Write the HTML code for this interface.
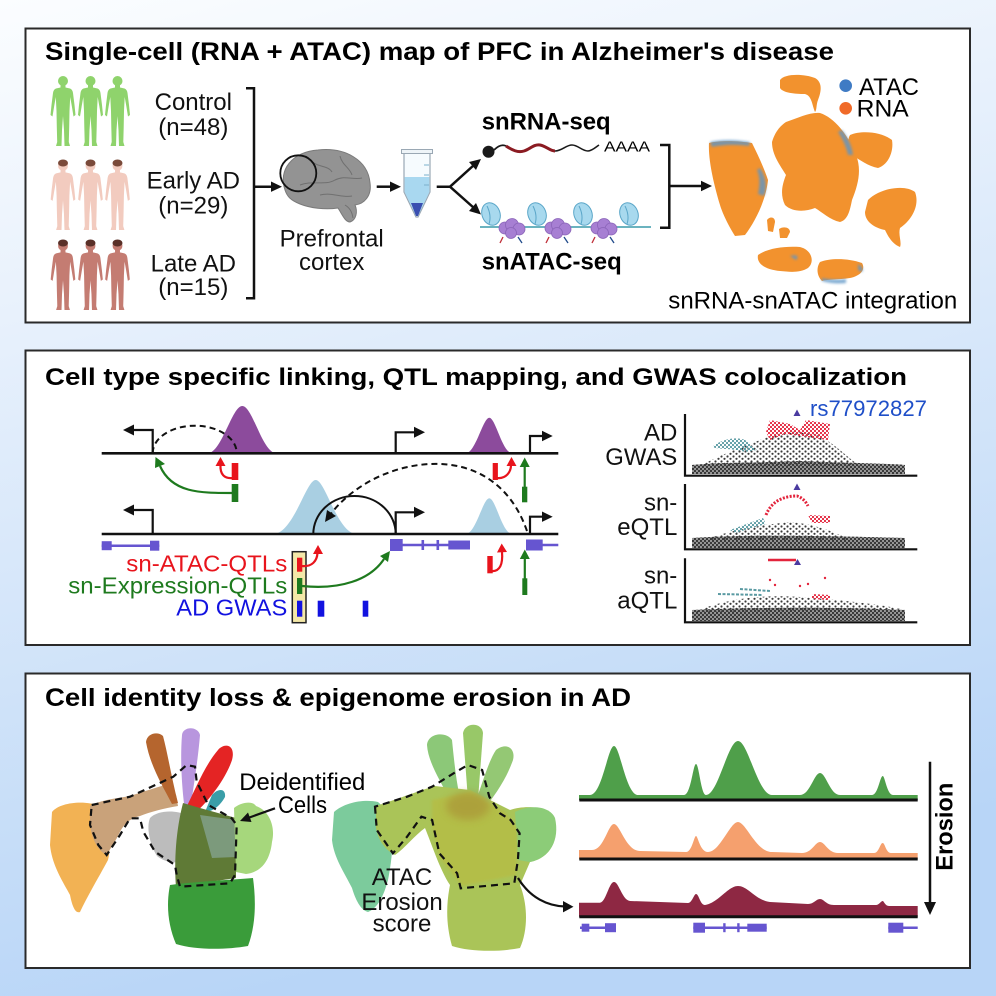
<!DOCTYPE html>
<html><head><meta charset="utf-8">
<style>
html,body{margin:0;padding:0;}
body{width:996px;height:996px;overflow:hidden;}
svg{display:block;}
text{font-family:"Liberation Sans",Arial,sans-serif;}
</style></head>
<body>
<svg width="996" height="996" viewBox="0 0 996 996" xmlns="http://www.w3.org/2000/svg">
<defs>
<linearGradient id="bg" x1="0" y1="0" x2="0.25" y2="1">
<stop offset="0" stop-color="#fbfdff"/>
<stop offset="0.3" stop-color="#e8f1fc"/>
<stop offset="0.65" stop-color="#d0e3f9"/>
<stop offset="1" stop-color="#b8d5f7"/>
</linearGradient>
<pattern id="dk" width="4" height="4" patternUnits="userSpaceOnUse"><circle cx="1" cy="1" r="1.15" fill="#333"/><circle cx="3" cy="3" r="1.15" fill="#333"/></pattern>
<pattern id="dk2" width="6" height="5" patternUnits="userSpaceOnUse"><circle cx="1.5" cy="1.5" r="1.1" fill="#3a3a3a"/><circle cx="4.5" cy="3.8" r="1.1" fill="#3a3a3a"/></pattern>
<pattern id="tl" width="4" height="4" patternUnits="userSpaceOnUse"><circle cx="1" cy="1" r="1.1" fill="#5a9aa2"/><circle cx="3" cy="3" r="1.1" fill="#5a9aa2"/></pattern>
<pattern id="rd" width="4" height="4" patternUnits="userSpaceOnUse"><circle cx="1" cy="1" r="1.1" fill="#e3243c"/><circle cx="3" cy="3" r="1.1" fill="#e3243c"/></pattern>
<symbol id="person" viewBox="0 0 26 72"><circle cx="13" cy="6" r="5"/><path d="M10.5,10 L15.5,10 L15.5,12.5 L20,13.5 Q22.5,14.5 23,18 L24.5,30 L25.5,40 L23.5,41.5 L21.8,31 L20.2,22 L19.5,36 L19.2,52 L18.8,67 L20,71 L14.5,71 L14,55 L13,41 L12,55 L11.5,71 L6,71 L7.2,67 L6.8,52 L6.5,36 L5.8,22 L4.2,31 L2.5,41.5 L0.5,40 L1.5,30 L3,18 Q3.5,14.5 6,13.5 L10.5,12.5 Z"/></symbol>
<filter id="soft" x="-10%" y="-10%" width="120%" height="120%"><feGaussianBlur stdDeviation="1.2"/></filter>
<filter id="soft3" x="-40%" y="-40%" width="180%" height="180%"><feGaussianBlur stdDeviation="4"/></filter>
</defs>

<rect x="0" y="0" width="996" height="996" fill="url(#bg)"/>

<!-- ================= PANEL 1 ================= -->
<rect x="25.5" y="28.5" width="944.5" height="294" fill="#fff" stroke="#2a2a2a" stroke-width="2"/>
<text x="45" y="60" font-size="25" font-weight="bold" textLength="789" lengthAdjust="spacingAndGlyphs">Single-cell (RNA + ATAC) map of PFC in Alzheimer's disease</text>

<!-- people -->
<g fill="#8fd36c">
<use href="#person" x="50" y="75" width="26" height="72"/>
<use href="#person" x="77.5" y="75" width="26" height="72"/>
<use href="#person" x="104.5" y="75" width="26" height="72"/>
</g>
<g fill="#f2cbbf">
<use href="#person" x="50" y="160" width="26" height="71"/>
<use href="#person" x="77.5" y="160" width="26" height="71"/>
<use href="#person" x="104.5" y="160" width="26" height="71"/>
</g>
<g fill="#7a4a3a"><ellipse cx="63" cy="163" rx="5" ry="3.5"/><ellipse cx="90.5" cy="163" rx="5" ry="3.5"/><ellipse cx="117.5" cy="163" rx="5" ry="3.5"/></g>
<g fill="#c47c72">
<use href="#person" x="50" y="240" width="26" height="71"/>
<use href="#person" x="77.5" y="240" width="26" height="71"/>
<use href="#person" x="104.5" y="240" width="26" height="71"/>
</g>
<g fill="#5a3028"><ellipse cx="63" cy="243" rx="5" ry="3.5"/><ellipse cx="90.5" cy="243" rx="5" ry="3.5"/><ellipse cx="117.5" cy="243" rx="5" ry="3.5"/></g>

<g font-size="24" text-anchor="middle" fill="#111">
<text x="193.3" y="110">Control</text>
<text x="193.3" y="135">(n=48)</text>
<text x="193.3" y="188.3">Early AD</text>
<text x="193.3" y="213.3">(n=29)</text>
<text x="193.3" y="271.7">Late AD</text>
<text x="193.3" y="295">(n=15)</text>
<text x="331.7" y="246.7">Prefrontal</text>
<text x="331.7" y="270">cortex</text>
</g>

<!-- bracket left -->
<path d="M246,88.3 L254,88.3 L254,298.3 L246,298.3" fill="none" stroke="#111" stroke-width="2.5"/>
<line x1="254" y1="186.7" x2="273" y2="186.7" stroke="#111" stroke-width="2.5"/>
<polygon points="282,186.7 271,181.5 271,191.9" fill="#111"/>

<!-- brain -->
<path d="M285,190 C278,170 292,152 318,150 C345,147 368,160 370,183 C372,196 364,204 355,205 C358,212 356,220 350,222 C345,222 342,214 338,208 C325,210 310,208 300,204 C290,200 287,196 285,190 Z" fill="#939393" stroke="#7a7a7a" stroke-width="1"/>
<g fill="none" stroke="#707070" stroke-width="1">
<path d="M300,185 C312,180 325,186 335,180 C345,175 352,180 362,178"/>
<path d="M310,160 C318,168 328,165 332,172"/>
<path d="M340,156 C342,165 350,168 352,175"/>
<path d="M320,195 C332,192 342,198 352,196"/>
<path d="M345,205 C350,208 352,212 353,218"/>
</g>
<circle cx="298.3" cy="173.3" r="18" fill="none" stroke="#111" stroke-width="1.8"/>

<line x1="376.7" y1="186.7" x2="392" y2="186.7" stroke="#111" stroke-width="2.5"/>
<polygon points="401,186.7 390,181.5 390,191.9" fill="#111"/>

<!-- tube -->
<path d="M404,153 L430,153 L430,192 L418,217 L416,217 L404,192 Z" fill="#f6fbfe" stroke="#9aa8b4" stroke-width="1.2"/>
<path d="M404.6,177 L429.4,177 L429.4,192 L418,216 L416,216 L404.6,192 Z" fill="#a9d8f0"/>
<path d="M411,203 L423,203 L418,216 L416,216 Z" fill="#3a4fb0"/>
<rect x="401.5" y="149.5" width="31" height="4" fill="#eef4f8" stroke="#9aa8b4" stroke-width="1"/>
<g stroke="#7ab0cc" stroke-width="1"><line x1="424" y1="165" x2="429" y2="165"/><line x1="424" y1="175" x2="429" y2="175"/><line x1="424" y1="185" x2="429" y2="185"/></g>

<!-- fork -->
<path d="M436.7,186.7 L450,186.7 L474,165" fill="none" stroke="#111" stroke-width="2.5"/>
<path d="M450,186.7 L474,208" fill="none" stroke="#111" stroke-width="2.5"/>
<polygon points="481,159 469,162 476,170" fill="#111"/>
<polygon points="481,214.5 469,211 476,203" fill="#111"/>

<!-- snRNA -->
<text x="481.7" y="129.3" font-size="24" font-weight="bold" textLength="129" lengthAdjust="spacingAndGlyphs">snRNA-seq</text>
<circle cx="488.5" cy="151.7" r="6" fill="#1a1a1a"/>
<path d="M494,150 C498,146 502,144 506,146" fill="none" stroke="#1a1a1a" stroke-width="1.8"/>
<path d="M506,146 C512,150 518,153 524,151 C530,149 534,144 540,145 C546,146 550,151 555,151" fill="none" stroke="#8b1b22" stroke-width="3"/>
<path d="M555,151 C562,151 566,145 572,145 C578,145 582,151 588,151 C592,151 596,147 599,145" fill="none" stroke="#1a1a1a" stroke-width="1.6"/>
<text x="604" y="151.7" font-size="15" textLength="46" lengthAdjust="spacingAndGlyphs">AAAA</text>

<!-- nucleosomes -->
<line x1="480" y1="227" x2="651" y2="227" stroke="#3a9aaa" stroke-width="1.5"/>
<g fill="#a77fd3" stroke="#8a64b8" stroke-width="0.8">
<circle cx="505" cy="228" r="6"/><circle cx="512" cy="225" r="6.5"/><circle cx="519" cy="229" r="6"/><circle cx="511" cy="233" r="5.5"/>
<circle cx="551" cy="228" r="6"/><circle cx="558" cy="225" r="6.5"/><circle cx="565" cy="229" r="6"/><circle cx="557" cy="233" r="5.5"/>
<circle cx="597" cy="228" r="6"/><circle cx="604" cy="225" r="6.5"/><circle cx="611" cy="229" r="6"/><circle cx="603" cy="233" r="5.5"/>
</g>
<g stroke-width="1.3">
<line x1="503" y1="237" x2="500" y2="243" stroke="#c0303a"/><line x1="518" y1="237" x2="522" y2="243" stroke="#204a8a"/>
<line x1="549" y1="237" x2="546" y2="243" stroke="#c0303a"/><line x1="564" y1="237" x2="568" y2="243" stroke="#204a8a"/>
<line x1="595" y1="237" x2="592" y2="243" stroke="#c0303a"/><line x1="610" y1="237" x2="614" y2="243" stroke="#204a8a"/>
</g>
<g fill="#a8d9ee" stroke="#5aa6c8" stroke-width="1">
<ellipse cx="491" cy="214" rx="9" ry="11.5" transform="rotate(-20 491 214)"/>
<ellipse cx="537" cy="214" rx="9" ry="11.5" transform="rotate(-20 537 214)"/>
<ellipse cx="583" cy="214" rx="9" ry="11.5" transform="rotate(-20 583 214)"/>
<ellipse cx="629" cy="214" rx="9" ry="11.5" transform="rotate(-20 629 214)"/>
</g>
<g stroke="#5aa6c8" stroke-width="1" fill="none">
<path d="M487,206 C490,212 491,218 489,224"/><path d="M533,206 C536,212 537,218 535,224"/><path d="M579,206 C582,212 583,218 581,224"/><path d="M625,206 C628,212 629,218 627,224"/>
</g>
<text x="481.7" y="269.3" font-size="24" font-weight="bold" textLength="140" lengthAdjust="spacingAndGlyphs">snATAC-seq</text>

<!-- right bracket -->
<path d="M660,145 L669.3,145 L669.3,227.7 L660,227.7" fill="none" stroke="#111" stroke-width="2.5"/>
<line x1="669.3" y1="186" x2="703" y2="186" stroke="#111" stroke-width="2.5"/>
<polygon points="712,186 701,180.8 701,191.2" fill="#111"/>

<!-- top UMAP -->
<g fill="#f2922e">
<path d="M709,143 C720,140 740,141 752,143 C758,155 764,168 768,180 C766,200 755,222 745,235 L735,236 C728,225 722,212 720,205 C714,185 708,160 709,143 Z"/>
<path d="M780,80 C785,73 805,74 815,78 C822,82 822,90 818,100 C816,105 817,110 815,112 C812,105 812,96 805,94 C795,94 783,93 780,88 Z"/>
<path d="M786,122 C798,118 810,112 820,113 C835,118 848,135 856,155 C862,170 858,185 852,200 C850,210 848,220 840,222 C830,220 822,212 815,208 C805,212 792,212 785,205 C780,195 782,185 786,175 C780,165 772,155 772,142 C775,132 780,126 786,122 Z"/>
<path d="M850,135 C862,130 882,132 892,140 C894,152 888,165 878,168 C868,166 860,160 852,155 C848,148 847,140 850,135 Z"/>
<path d="M868,200 C880,188 905,184 915,192 C920,205 912,220 900,228 C898,235 902,242 900,247 C892,244 888,236 885,230 C875,228 865,222 865,212 Z"/>
<path d="M758,255 C768,248 785,246 800,247 C812,250 815,262 808,268 C800,273 790,272 780,271 C768,270 756,265 758,255 Z"/>
<path d="M820,262 C830,258 848,258 862,263 C866,270 860,276 850,278 C838,280 828,279 822,281 C817,276 816,268 820,262 Z"/>
<path d="M767,220 C770,216 775,217 775,222 L773,232 L768,231 Z"/>
<path d="M779,229 C783,226 790,227 790,232 L787,238 L780,238 Z"/>
</g>
<g fill="#5d95c6" opacity="0.8" filter="url(#soft)">
<path d="M760,168 C765,175 768,186 764,196 L758,194 C760,185 760,176 757,170 Z"/>
<path d="M710,142 C722,139 738,140 750,142 L749,146 C735,144 722,145 712,147 Z"/>
<path d="M842,130 C848,138 852,146 853,155 L848,155 C846,146 842,138 838,132 Z"/>
<path d="M790,256 C796,254 800,256 796,260 Z"/>
<path d="M822,278 C830,280 840,280 846,279 L846,283 C838,284 828,283 822,281 Z"/>
<path d="M858,264 C862,266 864,270 862,272 L858,270 Z"/>
</g>
<circle cx="845.7" cy="85.7" r="6.3" fill="#3f7bc4"/>
<circle cx="845.7" cy="108.3" r="6.3" fill="#f06a28"/>
<text x="859" y="95" font-size="24" textLength="60" lengthAdjust="spacingAndGlyphs">ATAC</text>
<text x="856.7" y="116.7" font-size="24" textLength="52" lengthAdjust="spacingAndGlyphs">RNA</text>
<text x="668.3" y="308.3" font-size="24" textLength="289" lengthAdjust="spacingAndGlyphs">snRNA-snATAC integration</text>

<!-- ================= PANEL 2 ================= -->
<rect x="25.5" y="350.5" width="944.5" height="294.5" fill="#fff" stroke="#2a2a2a" stroke-width="2"/>
<text x="45" y="385" font-size="24" font-weight="bold" textLength="862" lengthAdjust="spacingAndGlyphs">Cell type specific linking, QTL mapping, and GWAS colocalization</text>

<!-- peaks -->
<path d="M208,453.3 C222,452 232,406 242.3,406 C252.6,406 262,452 276,453.3 Z" fill="#8c4b9c"/>
<path d="M466,453.3 C476,452 483,417.7 489.3,417.7 C495.6,417.7 502,452 512,453.3 Z" fill="#8c4b9c"/>
<path d="M274,534 C294,532 306,480 315.7,480 C325.4,480 337,532 356,534 Z" fill="#a9cfe2"/>
<path d="M466,534 C476,533 483,498.3 489.3,498.3 C495.6,498.3 502,533 512,534 Z" fill="#a9cfe2"/>

<!-- arcs -->
<path d="M152.7,453 A42,27.3 0 0 1 236.7,453" fill="none" stroke="#111" stroke-width="2" stroke-dasharray="6,4"/>
<path d="M313.3,534 A41.2,38 0 0 1 395.7,534" fill="none" stroke="#111" stroke-width="2"/>
<path d="M527,531 C510,482 472,462 430,464 C388,466 350,488 330,515" fill="none" stroke="#111" stroke-width="2" stroke-dasharray="6,4"/>
<polygon points="325,522 327,510 336,516" fill="#111"/>

<!-- genomic lines -->
<line x1="101.7" y1="453.3" x2="558.3" y2="453.3" stroke="#111" stroke-width="2.6"/>
<line x1="101.7" y1="534" x2="558.3" y2="534" stroke="#111" stroke-width="2.6"/>

<!-- TSS arrows -->
<g fill="none" stroke="#111" stroke-width="2.2">
<path d="M152.7,453 L152.7,430 L131,430"/>
<path d="M395.7,453 L395.7,432.3 L417,432.3"/>
<path d="M530,453 L530,436 L545,436"/>
<path d="M152.7,534 L152.7,510 L131,510"/>
<path d="M395.7,534 L395.7,512.3 L417,512.3"/>
<path d="M530,534 L530,516.7 L545,516.7"/>
</g>
<g fill="#111">
<polygon points="123,430 134,424.5 134,435.5"/>
<polygon points="425,432.3 414,426.8 414,437.8"/>
<polygon points="552.7,436 542,430.8 542,441.2"/>
<polygon points="123,510 134,504.5 134,515.5"/>
<polygon points="425,512.3 414,506.8 414,517.8"/>
<polygon points="552.7,516.7 542,511.5 542,521.9"/>
</g>

<!-- genes -->
<g fill="#6655d0" stroke="#6655d0">
<line x1="101.7" y1="545.7" x2="159.3" y2="545.7" stroke-width="2.5"/>
<rect x="101.7" y="541.2" width="10" height="9" stroke="none"/>
<rect x="150" y="540.7" width="9.3" height="10" stroke="none"/>
<line x1="390" y1="545" x2="470" y2="545" stroke-width="2.5"/>
<rect x="390" y="539" width="12.7" height="12" stroke="none"/>
<rect x="421.5" y="540" width="2.6" height="10" stroke="none"/>
<rect x="436.5" y="540" width="2.6" height="10" stroke="none"/>
<rect x="448.3" y="540.5" width="21.7" height="9" stroke="none"/>
<line x1="526" y1="545" x2="558.3" y2="545" stroke-width="2.5"/>
<rect x="526" y="539.5" width="16.7" height="11" stroke="none"/>
</g>

<!-- red / green top -->
<g fill="#e8141c">
<rect x="231.7" y="463" width="6.6" height="17"/>
<rect x="492.7" y="463" width="5.2" height="17"/>
</g>
<g fill="none" stroke="#e8141c" stroke-width="2.2">
<path d="M233,478 C224,479 220,474 220.5,465"/>
<path d="M497,478 C506,479 511,472 511,465"/>
</g>
<g fill="#e8141c">
<polygon points="220.5,457 215.5,466 225.5,466"/>
<polygon points="511.5,457 506.5,466 516.5,466"/>
</g>
<g fill="#1e7a1e">
<rect x="231.7" y="484" width="6.6" height="18"/>
<rect x="522" y="486.7" width="5.3" height="15.6"/>
</g>
<g fill="none" stroke="#1e7a1e" stroke-width="2.2">
<path d="M232,493 C200,493 172,493 160,466"/>
<line x1="524.7" y1="487" x2="524.7" y2="466"/>
</g>
<g fill="#1e7a1e">
<polygon points="155.5,457 155,468 165,464"/>
<polygon points="524.7,457.5 519.7,467 529.7,467"/>
</g>

<!-- QTL labels -->
<g font-size="23" text-anchor="end">
<text x="287.3" y="571.7" fill="#e8141c" textLength="161" lengthAdjust="spacingAndGlyphs">sn-ATAC-QTLs</text>
<text x="287.3" y="593.3" fill="#1e7a1e" textLength="219" lengthAdjust="spacingAndGlyphs">sn-Expression-QTLs</text>
<text x="287.3" y="615.7" fill="#1212e0" textLength="111" lengthAdjust="spacingAndGlyphs">AD GWAS</text>
</g>
<rect x="292.3" y="551.7" width="13.7" height="71" fill="#f4e8a8" stroke="#222" stroke-width="1.5"/>
<rect x="297" y="557.7" width="5.3" height="14" fill="#e8141c"/>
<rect x="297" y="578" width="5.3" height="16" fill="#1e7a1e"/>
<g fill="#1212e0">
<rect x="297" y="600.7" width="5.3" height="16"/>
<rect x="317.7" y="600.7" width="6.6" height="16"/>
<rect x="362.7" y="600.7" width="5.6" height="16"/>
</g>
<path d="M302,566 C312,567 317,561 317.5,553" fill="none" stroke="#e8141c" stroke-width="2.2"/>
<polygon points="318,545 313,554 323,554" fill="#e8141c"/>
<path d="M302,586 C340,590 370,580 384,559" fill="none" stroke="#1e7a1e" stroke-width="2.2"/>
<polygon points="390,551 380,556 388,562" fill="#1e7a1e"/>

<rect x="487.3" y="556" width="5.4" height="17.3" fill="#e8141c"/>
<path d="M491,571 C500,572 503,564 502,552" fill="none" stroke="#e8141c" stroke-width="2.2"/>
<polygon points="501.7,543.5 497,552.5 507,552" fill="#e8141c"/>
<rect x="522.3" y="578.3" width="5" height="16.7" fill="#1e7a1e"/>
<line x1="524.8" y1="579" x2="524.8" y2="558" stroke="#1e7a1e" stroke-width="2.2"/>
<polygon points="524.8,549.5 519.8,559 529.8,559" fill="#1e7a1e"/>

<!-- GWAS plots -->
<g font-size="24" text-anchor="end" fill="#111">
<text x="677.3" y="440.7">AD</text>
<text x="677.3" y="465" textLength="72" lengthAdjust="spacingAndGlyphs">GWAS</text>
<text x="677.3" y="510.7">sn-</text>
<text x="677.3" y="535">eQTL</text>
<text x="677.3" y="583.3">sn-</text>
<text x="677.3" y="608.3">aQTL</text>
</g>
<text x="810" y="416" font-size="22" fill="#1f4fc8" textLength="117" lengthAdjust="spacingAndGlyphs">rs77972827</text>

<!-- plot1 -->
<path d="M692,474 L692,465 C720,462 760,463 800,461 C840,463 880,463 905,465 L905,474 Z" fill="#555" opacity="0.6"/>
<path d="M692,474 L692,465 C720,462 760,463 800,461 C840,463 880,463 905,465 L905,474 Z" fill="url(#dk)"/>
<path d="M700,466 C720,455 740,448 760,440 C780,432 800,428 820,436 C835,444 848,458 860,466 Z" fill="url(#dk2)"/>
<path d="M712,447 C720,440 735,436 745,440 L757,450 L745,452 C735,448 720,450 712,447 Z" fill="url(#tl)"/>
<path d="M766,432 L770,420 L790,424 L800,430 L806,420 L830,424 L828,440 L812,438 L800,436 L785,434 L770,440 Z" fill="url(#rd)"/>
<polygon points="793.5,416 797,409.5 800.5,416" fill="#4a3aa0"/>
<path d="M685,414 L685,475.7 L917.3,475.7" fill="none" stroke="#111" stroke-width="2.2"/>

<!-- plot2 -->
<path d="M692,548 L692,538 C740,535 800,535 905,538 L905,548 Z" fill="#555" opacity="0.6"/>
<path d="M692,548 L692,538 C740,535 800,535 905,538 L905,548 Z" fill="url(#dk)"/>
<path d="M705,540 C730,530 760,525 790,522 C815,524 835,532 850,540 Z" fill="url(#dk2)"/>
<path d="M730,530 L763,518 L766,524 L735,533 Z" fill="url(#tl)"/>
<path d="M766,515 C772,500 785,496 797,496 C803,498 806,502 808,506" fill="none" stroke="#e3243c" stroke-width="3" stroke-dasharray="2,1.5"/>
<path d="M808,515 L830,516 L830,523 L812,523 Z" fill="url(#rd)"/>
<polygon points="793.5,490 797,483.5 800.5,490" fill="#4a3aa0"/>
<path d="M685,484 L685,549.3 L917.3,549.3" fill="none" stroke="#111" stroke-width="2.2"/>

<!-- plot3 -->
<path d="M692,621 L692,610 C760,607 840,607 905,610 L905,621 Z" fill="#555" opacity="0.6"/>
<path d="M692,621 L692,610 C760,607 840,607 905,610 L905,621 Z" fill="url(#dk)"/>
<path d="M695,612 C720,600 760,594 800,597 C840,600 880,604 905,610 Z" fill="url(#dk2)"/>
<line x1="718" y1="594" x2="763" y2="595" stroke="#5a9aa2" stroke-width="2" stroke-dasharray="3,1.5"/>
<line x1="740" y1="589" x2="770" y2="591" stroke="#5a9aa2" stroke-width="2" stroke-dasharray="3,1.5"/>
<line x1="768" y1="560" x2="796" y2="560" stroke="#e3243c" stroke-width="2.6"/>
<polygon points="794,565 797.5,559 801,565" fill="#4a3aa0"/>
<path d="M812,594 L830,595 L830,600 L812,599 Z" fill="url(#rd)"/>
<g fill="#e3243c"><circle cx="770" cy="580" r="1.2"/><circle cx="775" cy="585" r="1.2"/><circle cx="800" cy="586" r="1.2"/><circle cx="808" cy="584" r="1.2"/><circle cx="825" cy="578" r="1.2"/></g>
<path d="M685,558.3 L685,622.3 L917.3,622.3" fill="none" stroke="#111" stroke-width="2.2"/>

<!-- ================= PANEL 3 ================= -->
<rect x="25.5" y="673.5" width="944.5" height="294.5" fill="#fff" stroke="#2a2a2a" stroke-width="2"/>
<text x="45" y="706" font-size="25" font-weight="bold" textLength="586" lengthAdjust="spacingAndGlyphs">Cell identity loss &amp; epigenome erosion in AD</text>

<!-- left UMAP -->
<g>
<path d="M52,812 C60,802 85,800 100,806 C108,822 112,845 108,860 C100,875 88,895 80,912 C75,914 72,905 70,895 C62,880 52,865 50,845 Z" fill="#f2b254"/>
<path d="M90,806 C100,800 118,798 130,796 C142,792 155,788 165,785 L176,795 L178,806 C165,808 150,812 140,816 C132,818 125,822 120,832 C115,842 110,850 106,855 C98,850 92,840 90,825 Z" fill="#c9a27a"/>
<path d="M146,742 C147,733 158,731 163,736 C168,755 172,780 178,803 L172,804 C162,785 150,765 146,742 Z" fill="#b5652e"/>
<path d="M182,735 C183,726 198,726 200,735 C198,760 193,790 190,811 L185,811 C182,790 180,760 182,735 Z" fill="#b896de"/>
<path d="M218,750 C225,742 236,745 232,760 C226,778 210,800 194,814 L186,808 C195,790 205,765 218,750 Z" fill="#e42424"/>
<path d="M212,795 C218,788 226,788 225,797 C220,806 212,812 205,812 Z" fill="#3a9ea8"/>
<path d="M150,818 C158,810 176,810 186,815 L188,860 C178,864 165,863 157,856 C150,845 146,828 150,818 Z" fill="#bcbcbc"/>
<path d="M183,803 L200,808 L236,818 L236,878 L176,887 C174,860 176,830 183,803 Z" fill="#5f7a36"/>
<path d="M200,815 L236,820 L236,857 L212,858 Z" fill="#7f9d84" opacity="0.9"/>
<path d="M234,808 C240,803 252,800 256,806 C268,810 276,825 272,842 C270,860 262,872 246,874 L236,872 Z" fill="#a6d77c"/>
<path d="M170,885 C190,882 230,880 253,878 C256,900 256,925 248,946 C225,950 195,950 176,944 C168,925 166,905 170,885 Z" fill="#3a9c3a"/>
</g>
<path d="M91.7,805 L130,796.7 L173.3,776.7 L186.7,765 L195,766.7 L196.7,781.7 L208.3,805 L231.7,818.3 L236.7,825 L235,875 L230,883.3 L180,886.7 L176.7,875 L175,865 L155,851.7 L143.3,831.7 L140,818.3 L130,818.3 L120,835 L106.7,855 L98.3,845 L90,825 Z" fill="none" stroke="#111" stroke-width="2.2" stroke-dasharray="7,5"/>
<text x="239.3" y="790" font-size="24" textLength="126" lengthAdjust="spacingAndGlyphs">Deidentified</text>
<text x="278" y="813" font-size="24" textLength="49" lengthAdjust="spacingAndGlyphs">Cells</text>
<line x1="275" y1="808.3" x2="248" y2="818" stroke="#111" stroke-width="2.2"/>
<polygon points="240,821 248,812.5 251.5,822" fill="#111"/>

<!-- right UMAP -->
<g>
<path d="M334,812 C345,802 365,799 378,802 L392,815 C394,838 392,860 388,880 C384,895 378,908 368,912 C360,910 355,898 352,888 C344,872 334,858 332,840 Z" fill="#7ccb9c"/>
<path d="M427,745 C428,733 446,731 452,740 C454,760 456,780 460,798 L450,800 C440,780 428,762 427,745 Z" fill="#8cc878"/>
<path d="M463,733 C465,722 482,722 483,733 L478,800 L468,800 Z" fill="#98c868"/>
<path d="M496,750 C506,742 516,748 513,760 C506,780 495,795 482,812 L474,806 C482,785 488,762 496,750 Z" fill="#94c874"/>
<path d="M376,806 C395,800 415,792 435,786 L470,790 L510,810 C525,805 548,806 554,818 C560,840 550,858 530,862 L520,885 C528,905 528,930 520,948 C500,952 470,952 452,946 C446,925 446,905 450,885 C440,870 432,845 425,828 C415,835 405,848 395,855 C385,850 378,840 376,828 Z" fill="#aac458"/>
<path d="M515,812 C530,804 550,806 555,818 C560,840 550,858 530,862 L518,860 Z" fill="#8ccc78"/>
<path d="M432,800 L470,792 L505,812 L518,830 L516,875 L462,886 L440,858 L432,825 Z" fill="#b8bc42" opacity="0.7" filter="url(#soft)"/>
<ellipse cx="468" cy="806" rx="22" ry="14" fill="#a88a30" opacity="0.55" filter="url(#soft3)"/>
</g>
<path d="M375,806.7 L376.8,830 L392.9,853.3 L407.1,836.7 L421.4,816.7 L432.1,820 L439.3,853.3 L457.1,873.3 L460.7,888.3 L514.3,883.3 L517.9,860 L519.6,833.3 L510.7,820 L500,813.3 L489.3,796.7 L482.1,770 L467.9,765 L453.6,773.3 L432.1,786.7 L407.1,796.7 Z" fill="none" stroke="#111" stroke-width="2.2" stroke-dasharray="7,5"/>
<g font-size="24" text-anchor="middle" fill="#111">
<text x="402" y="885">ATAC</text>
<text x="402" y="910">Erosion</text>
<text x="402" y="931.7">score</text>
</g>
<path d="M518,878 C530,898 548,906 565,906.5" fill="none" stroke="#111" stroke-width="2.2"/>
<polygon points="573.5,906.7 563,901 563,912.4" fill="#111"/>

<!-- tracks -->
<path d="M579,800 L579,795 L590,795 C602,795 608,746 614,746 C620,746 626,795 638,795 L684,795 C691,795 693,764 696,764 C699,764 701,795 706,795 C718,795 728,741 738,741 C748,741 758,795 772,795 L800,795 C810,795 814,773 820,773 C826,773 830,795 840,795 L872,795 C878,795 880,776 882.7,776 C885,776 887,795 893,795 L917.7,795 L917.7,800 Z" fill="#4f9f4a"/>
<line x1="579.3" y1="800" x2="917.7" y2="800" stroke="#111" stroke-width="3"/>
<path d="M579,859 L579,850 L592,850 C604,850 608,824 614,824 C620,824 626,851 640,851 L686,852 C692,852 694,836 696,836 C698,836 700,852 708,852 C720,852 730,822 738,822 C746,822 756,852 772,852 L802,853 C812,853 815,842 820,842 C825,842 828,853 838,853 L874,853 C879,853 880,843 882.7,843 C885,843 886,853 891,853 L917.7,853 L917.7,859 Z" fill="#f5a06e"/>
<line x1="579.3" y1="859" x2="917.7" y2="859" stroke="#111" stroke-width="3"/>
<path d="M579,916.7 L579,902.7 L600,902.7 C606,902 609,882 614,882 C619,882 622,900 630,901 L688,903 C692,903 694,894 696,894 C699,894 700,905 705,905 C718,903 728,886 738,886 C748,886 755,900 770,902 L808,904 C814,904 816,899 820,899 C824,899 826,905 834,905 L876,905 C879,905 881,901 882.7,901 C884,901 885,906 889,906 L917.7,906 L917.7,916.7 Z" fill="#8e2843"/>
<line x1="579.3" y1="916.7" x2="917.7" y2="916.7" stroke="#111" stroke-width="3"/>

<!-- genes panel 3 -->
<g fill="#6655d0" stroke="#6655d0">
<line x1="580" y1="927.7" x2="616" y2="927.7" stroke-width="2.5"/>
<rect x="581.7" y="923.7" width="7.6" height="8" stroke="none"/>
<rect x="605" y="923.2" width="11" height="9" stroke="none"/>
<line x1="693.3" y1="927.7" x2="766.7" y2="927.7" stroke-width="2.5"/>
<rect x="693.3" y="922.7" width="11.7" height="10" stroke="none"/>
<rect x="723.2" y="923.2" width="2.4" height="9" stroke="none"/>
<rect x="737.2" y="923.2" width="2.4" height="9" stroke="none"/>
<rect x="747.3" y="923.7" width="19.4" height="8" stroke="none"/>
<line x1="888.3" y1="927.7" x2="917.7" y2="927.7" stroke-width="2.5"/>
<rect x="888.3" y="922.7" width="15" height="10" stroke="none"/>
</g>

<!-- erosion arrow -->
<line x1="930" y1="761.7" x2="930" y2="905" stroke="#111" stroke-width="2.5"/>
<polygon points="930,915 924,902 936,902" fill="#111"/>
<text transform="translate(952.5,826.7) rotate(-90)" font-size="24" font-weight="bold" text-anchor="middle" textLength="88" lengthAdjust="spacingAndGlyphs">Erosion</text>
</svg>
</body></html>
